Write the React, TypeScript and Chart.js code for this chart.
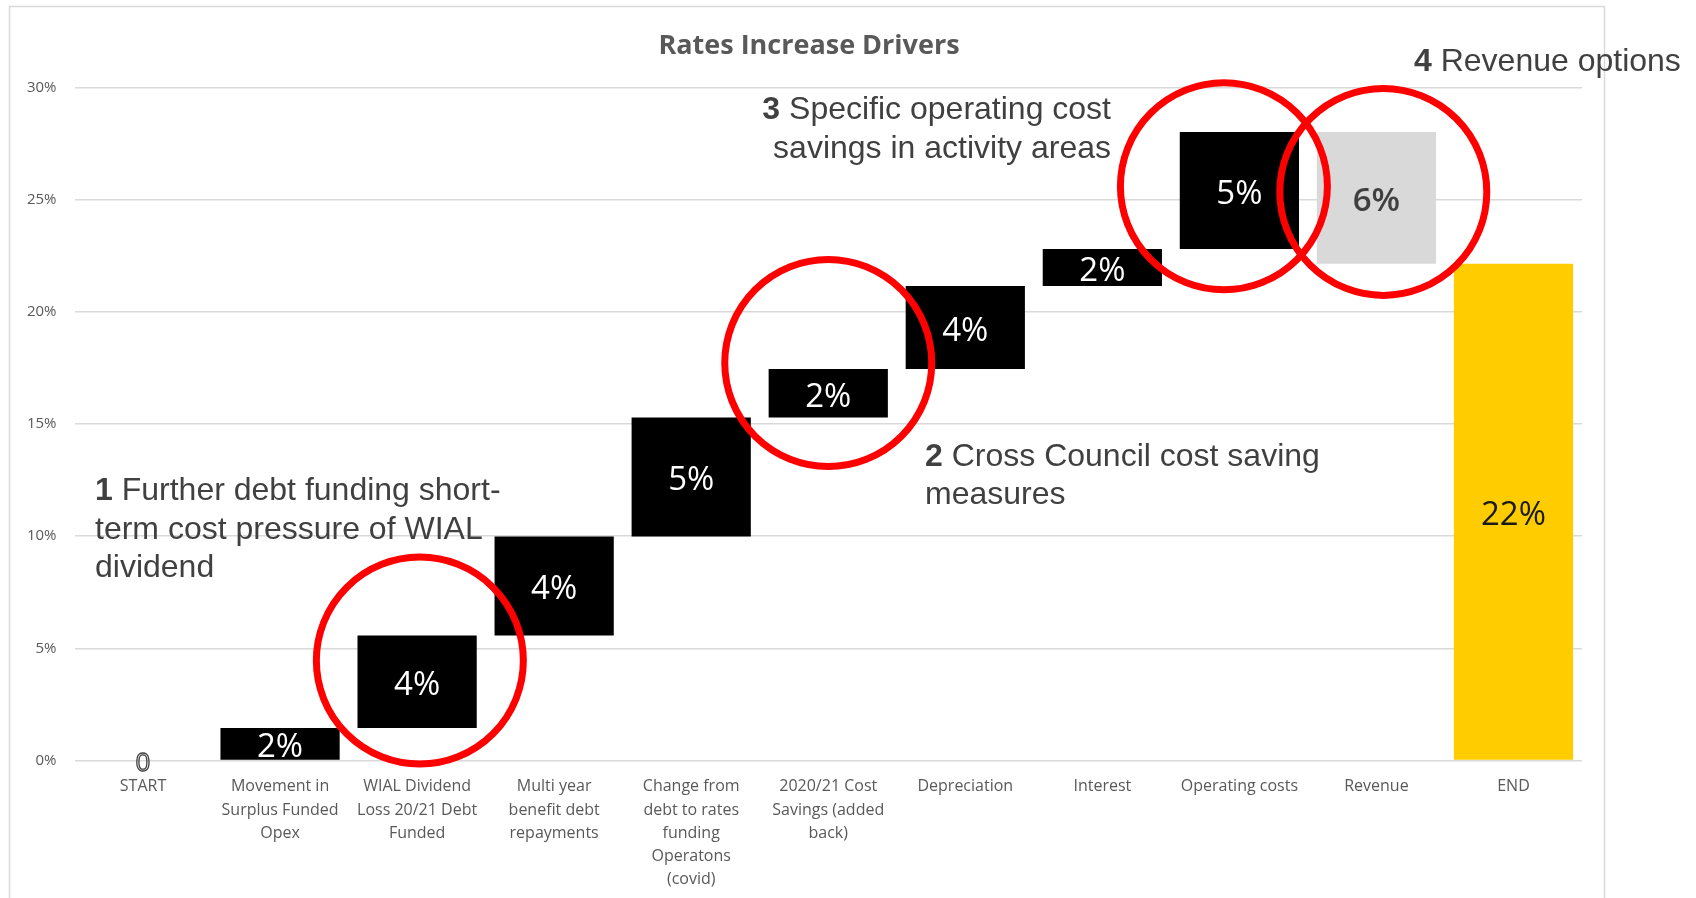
import React, { useEffect, useRef } from "react";
import { Chart, registerables } from "chart.js";

Chart.register(...registerables);

// ---------- data ----------
const categories: (string | string[])[] = [
  "START",
  ["Movement in", "Surplus Funded", "Opex"],
  ["WIAL Dividend", "Loss 20/21 Debt", "Funded"],
  ["Multi year", "benefit debt", "repayments"],
  ["Change from", "debt to rates", "funding", "Operatons", "(covid)"],
  ["2020/21 Cost", "Savings (added", "back)"],
  "Depreciation",
  "Interest",
  "Operating costs",
  "Revenue",
  "END",
];
const barStart = [0, 0, 1.45, 5.57, 9.98, 15.29, 17.45, 21.15, 22.8, 28.02, 0];
const barEnd = [0, 1.45, 5.57, 9.98, 15.29, 17.45, 21.15, 22.8, 28.02, 22.15, 22.15];
const barLabels = ["0", "2%", "4%", "4%", "5%", "2%", "4%", "2%", "5%", "6%", "22%"];
const barColors = ["#000000", "#000000", "#000000", "#000000", "#000000", "#000000", "#000000", "#000000", "#000000", "#d9d9d9", "#ffcc00"];
const labelColors = ["#404040", "#ffffff", "#ffffff", "#ffffff", "#ffffff", "#ffffff", "#ffffff", "#ffffff", "#ffffff", "#404040", "#1a1a1a"];
const yMin = 0;
const yMax = 30;
const yStep = 5;
const chartTitle = "Rates Increase Drivers";

// highlight circles anchored to category index / value (%)
const circleCat = [2, 5, 8, 9];
const circleVal = [4.45, 17.72, 25.6, 25.35];
const circleShift = [0.02, 0, -0.113, 0.05];

// callout texts
const calloutNums = ["1", "2", "3", "4"];
const calloutLines = [
  ["Further debt funding short-", "term cost pressure of WIAL", "dividend"],
  ["Cross Council cost saving", "measures"],
  ["Specific operating cost", "savings in activity areas"],
  ["Revenue options"],
];

// ---------- layout / style ----------
const W = 1696;
const H = 898;
const calloutPos = [
  { x: 95, y: 500, align: "left" },
  { x: 925, y: 465.5, align: "left" },
  { x: 1111, y: 119, align: "right" },
  { x: 1414, y: 71, align: "left" },
];
const calloutFont = "32px 'Liberation Sans', Arial, sans-serif";
const calloutBold = "bold 32px 'Liberation Sans', Arial, sans-serif";
const calloutLineH = 38.5;
const tickFontFamily = "'Open Sans', sans-serif";

const overlay = {
  id: "overlay",
  beforeDraw(chart: any) {
    const ctx = chart.ctx;
    ctx.save();
    ctx.fillStyle = "#ffffff";
    ctx.fillRect(0, 0, chart.width, chart.height);
    ctx.restore();
  },
  afterDatasetsDraw(chart: any) {
    const ctx = chart.ctx;
    const meta = chart.getDatasetMeta(0);
    ctx.save();
    ctx.textAlign = "center";
    ctx.textBaseline = "middle";
    meta.data.forEach((el: any, i: number) => {
      const p = el.getProps(["x", "y", "base"], true);
      const cy = (p.y + p.base) / 2;
      if (i === 0) {
        ctx.font = "26px 'Open Sans', sans-serif";
        ctx.lineWidth = 1.3;
        ctx.strokeStyle = "#404040";
        ctx.strokeText(barLabels[i], p.x, cy + 3);
        return;
      }
      ctx.font = (i === 9 ? "600 " : "") + "33px 'Open Sans', sans-serif";
      ctx.fillStyle = labelColors[i];
      ctx.fillText(barLabels[i], p.x, cy + 4);
    });
    ctx.restore();

    // circles
    const xs = chart.scales.x;
    const ys = chart.scales.y;
    const catW = xs.width / categories.length;
    ctx.save();
    ctx.strokeStyle = "#ff0000";
    ctx.lineWidth = 7;
    circleCat.forEach((c, i) => {
      const cx = xs.getPixelForValue(c) + circleShift[i] * catW;
      const cy = ys.getPixelForValue(circleVal[i]);
      ctx.beginPath();
      ctx.arc(cx, cy, 103.5, 0, Math.PI * 2);
      ctx.stroke();
    });
    ctx.restore();
  },
  afterDraw(chart: any) {
    const ctx = chart.ctx;
    ctx.save();
    // frame
    ctx.strokeStyle = "#d9d9d9";
    ctx.lineWidth = 1.5;
    ctx.beginPath();
    ctx.moveTo(9.5, H + 5);
    ctx.lineTo(9.5, 6.5);
    ctx.lineTo(1604.5, 6.5);
    ctx.lineTo(1604.5, H + 5);
    ctx.stroke();

    // title
    ctx.fillStyle = "#595959";
    ctx.font = "bold 27px 'Open Sans', sans-serif";
    ctx.textAlign = "center";
    ctx.textBaseline = "alphabetic";
    ctx.fillText(chartTitle, 809, 54);

    // callouts
    ctx.fillStyle = "#404040";
    ctx.textAlign = "left";
    calloutLines.forEach((lines, k) => {
      const pos = calloutPos[k];
      lines.forEach((line, j) => {
        const y = pos.y + j * calloutLineH;
        if (j === 0) {
          ctx.font = calloutBold;
          const numTxt = calloutNums[k] + " ";
          const nw = ctx.measureText(numTxt).width;
          ctx.font = calloutFont;
          const lw = ctx.measureText(line).width;
          const x0 = pos.align === "right" ? pos.x - nw - lw : pos.x;
          ctx.font = calloutBold;
          ctx.fillText(numTxt, x0, y);
          ctx.font = calloutFont;
          ctx.fillText(line, x0 + nw, y);
        } else {
          ctx.font = calloutFont;
          const lw = ctx.measureText(line).width;
          const x0 = pos.align === "right" ? pos.x - lw : pos.x;
          ctx.fillText(line, x0, y);
        }
      });
    });
    ctx.restore();
  },
};

export default function App() {
  const ref = useRef<HTMLCanvasElement | null>(null);
  useEffect(() => {
    if (!ref.current) return;
    const data = barStart.map((s, i) => [s, barEnd[i]]);
    const chart = new Chart(ref.current, {
      type: "bar",
      data: {
        labels: categories as any,
        datasets: [
          {
            data: data as any,
            backgroundColor: barColors,
            borderWidth: 0,
            barPercentage: 0.87,
            categoryPercentage: 1,
          },
        ],
      },
      options: {
        animation: false,
        responsive: true,
        maintainAspectRatio: false,
        layout: { padding: { left: 0, top: 87.6, right: 114, bottom: 0 } },
        plugins: {
          legend: { display: false },
          tooltip: { enabled: false },
          title: { display: false },
        },
        scales: {
          x: {
            grid: { display: false, drawTicks: false },
            border: { display: false },
            ticks: {
              autoSkip: false,
              maxRotation: 0,
              minRotation: 0,
              padding: 15,
              color: "#595959",
              font: { family: tickFontFamily, size: 16, lineHeight: 1.44 },
            },
            afterFit: (s: any) => {
              s.height = 137.6;
            },
          },
          y: {
            min: yMin,
            max: yMax,
            grid: { color: "#d9d9d9", lineWidth: 1.5, drawTicks: false },
            border: { display: false },
            ticks: {
              stepSize: yStep,
              padding: 18,
              color: "#595959",
              font: { family: tickFontFamily, size: 15 },
              callback: (v: any) => v + "%",
            },
            afterFit: (s: any) => {
              s.width = 74.5;
            },
          },
        },
      },
      plugins: [overlay],
    });
    return () => chart.destroy();
  }, []);
  return (
    <div style={{ position: "fixed", left: 0, top: 0, width: W, height: H, background: "#fff" }}>
      <canvas ref={ref} />
    </div>
  );
}
